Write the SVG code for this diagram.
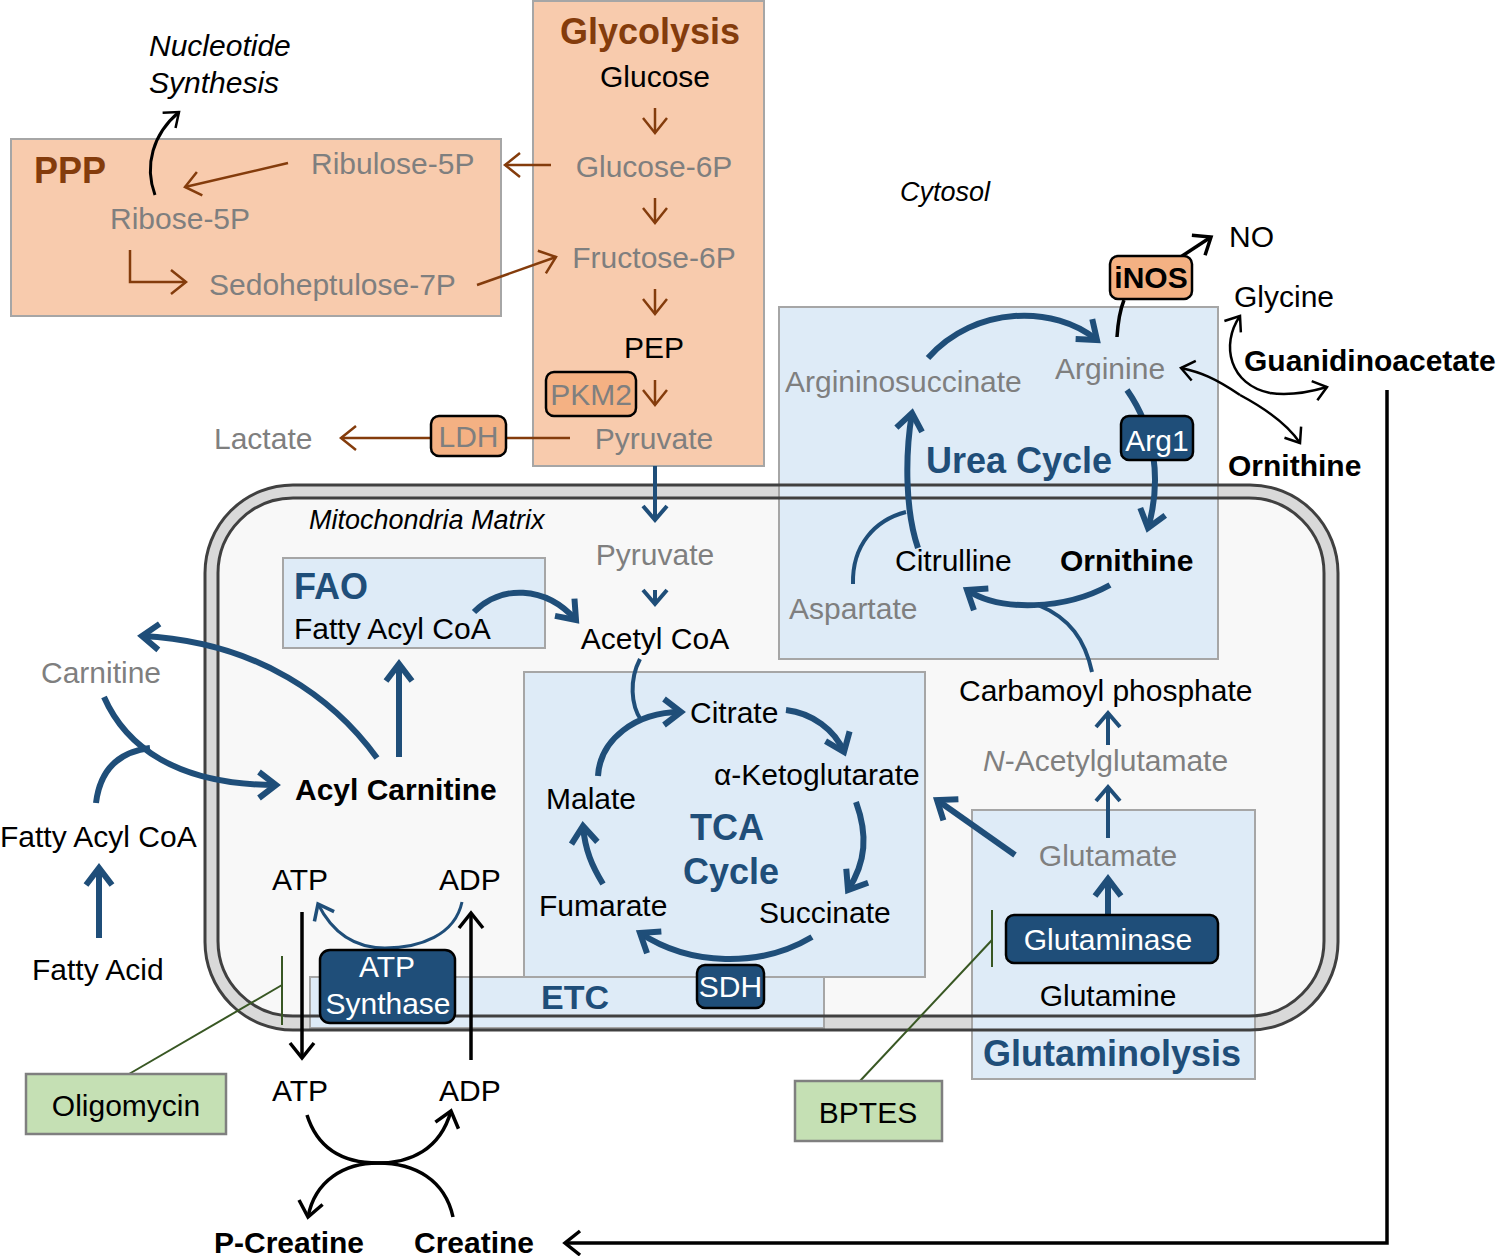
<svg xmlns="http://www.w3.org/2000/svg" width="1500" height="1256" viewBox="0 0 1500 1256">
<style>
text{font-family:"Liberation Sans",Arial,sans-serif;font-size:30px;fill:#000}
.g{fill:#7f7f7f}
.b{font-weight:bold}
.i{font-style:italic}
.ttl{font-weight:bold;font-size:36px}
.br{fill:#843c0c}
.bl{fill:#1f4e79}
.w{fill:#fff}
.mid{text-anchor:middle}
.peach{fill:#f8cbad;stroke:#a6a6a6;stroke-width:2}
.lblue{fill:#deebf7;stroke:#a6a6a6;stroke-width:2}
.enz{fill:#1f4e79;stroke:#000;stroke-width:2.5}
.enzp{fill:#f4b183;stroke:#000;stroke-width:2.5}
.inh{fill:#c5e0b4;stroke:#7f7f7f;stroke-width:2.5}
.cb{fill:none;stroke:#1f4e79;stroke-width:6}
.cbm{fill:none;stroke:#1f4e79;stroke-width:4}
.cbt{fill:none;stroke:#1f4e79;stroke-width:3}
.cbr{fill:none;stroke:#843c0c;stroke-width:2.5}
.ck{fill:none;stroke:#000;stroke-width:3.5}
.cg{fill:none;stroke:#385723;stroke-width:2}
</style>
<defs>
<marker id="mBL" markerUnits="userSpaceOnUse" markerWidth="50" markerHeight="50" viewBox="-25 -25 50 50" refX="0" refY="0" orient="auto" overflow="visible"><path d="M-17,-13 L0,0 L-17,13" fill="none" stroke="#1f4e79" stroke-width="6"/></marker>
<marker id="mBM" markerUnits="userSpaceOnUse" markerWidth="40" markerHeight="40" viewBox="-20 -20 40 40" refX="0" refY="0" orient="auto" overflow="visible"><path d="M-14,-12 L0,0 L-14,12" fill="none" stroke="#1f4e79" stroke-width="4"/></marker>
<marker id="mBS" markerUnits="userSpaceOnUse" markerWidth="40" markerHeight="40" viewBox="-20 -20 40 40" refX="0" refY="0" orient="auto" overflow="visible"><path d="M-14,-11 L0,0 L-14,11" fill="none" stroke="#1f4e79" stroke-width="3.5"/></marker>
<marker id="mBr" markerUnits="userSpaceOnUse" markerWidth="40" markerHeight="40" viewBox="-20 -20 40 40" refX="0" refY="0" orient="auto" overflow="visible"><path d="M-15,-12 L0,0 L-15,12" fill="none" stroke="#843c0c" stroke-width="2.5"/></marker>
<marker id="mK" markerUnits="userSpaceOnUse" markerWidth="40" markerHeight="40" viewBox="-20 -20 40 40" refX="0" refY="0" orient="auto" overflow="visible"><path d="M-15,-12 L0,0 L-15,12" fill="none" stroke="#000" stroke-width="3.5"/></marker>
<marker id="mKt" markerUnits="userSpaceOnUse" markerWidth="40" markerHeight="40" viewBox="-20 -20 40 40" refX="0" refY="0" orient="auto" overflow="visible"><path d="M-13,-10 L0,0 L-13,10" fill="none" stroke="#000" stroke-width="2.5"/></marker>
</defs>

<!-- Mitochondria membrane background -->
<g id="mitochondria">
<rect x="205" y="485" width="1133" height="545" rx="88" fill="#d9d9d9"/>
<rect x="218" y="498" width="1106" height="518" rx="75" fill="#f8f8f8"/>
</g>

<!-- Pathway boxes -->
<g id="glycolysis-box"><rect class="peach" x="533" y="1" width="231" height="465"/></g>
<g id="ppp-box"><rect class="peach" x="11" y="139" width="490" height="177"/></g>
<g id="urea-box"><rect class="lblue" x="779" y="307" width="439" height="352"/></g>
<g id="fao-box"><rect class="lblue" x="283" y="558" width="262" height="90"/></g>
<g id="tca-box"><rect class="lblue" x="524" y="672" width="401" height="305"/></g>
<g id="etc-box"><rect class="lblue" x="310" y="977" width="514" height="51"/></g>
<g id="glutaminolysis-box"><rect class="lblue" x="972" y="810" width="283" height="269"/></g>

<!-- Membrane lines on top -->
<g id="membrane-lines" fill="none" stroke="#404040" stroke-width="3">
<rect x="205" y="485" width="1133" height="545" rx="88"/>
<rect x="218" y="498" width="1106" height="518" rx="75"/>
</g>

<!-- Connectors -->
<g id="connectors">
<!-- glycolysis -->
<path class="cbr" d="M655,108 L655,133" marker-end="url(#mBr)"/>
<path class="cbr" d="M655,198 L655,223" marker-end="url(#mBr)"/>
<path class="cbr" d="M655,289 L655,314" marker-end="url(#mBr)"/>
<path class="cbr" d="M655,380 L655,405" marker-end="url(#mBr)"/>
<path class="cbr" d="M551,165 L505,165" marker-end="url(#mBr)"/>
<path class="cbr" d="M477,285 L556,257" marker-end="url(#mBr)"/>
<path class="cbr" d="M288,163 L185,187" marker-end="url(#mBr)"/>
<path class="cbr" d="M130,250 L130,282 L186,282" marker-end="url(#mBr)"/>
<path class="cbr" d="M570,438 L341,438" marker-end="url(#mBr)"/>
<path class="ck" d="M155,195 C144,165 153,134 179,112" marker-end="url(#mKt)" style="stroke-width:3"/>
<!-- pyruvate to mito -->
<path class="cbm" d="M655,466 L655,520" marker-end="url(#mBM)"/>
<path class="cbm" d="M655,590 L655,604" marker-end="url(#mBM)"/>
<!-- FAO -->
<path class="cb" d="M474,612 C500,585 545,585 576,620" marker-end="url(#mBL)"/>
<path class="cb" d="M399,757 L399,664" marker-end="url(#mBL)"/>
<path class="cb" d="M377,758 C335,700 260,642 142,636" marker-end="url(#mBL)"/>
<path class="cb" d="M104,697 C125,745 175,785 276,785" marker-end="url(#mBL)"/>
<path class="cb" d="M96,803 C100,770 118,752 150,748"/>
<path class="cb" d="M99,938 L99,868" marker-end="url(#mBL)"/>
<!-- TCA -->
<path class="cbm" d="M640,659 C629,680 631,705 641,720"/>
<path class="cb" d="M598,776 C600,740 635,712 681,712" marker-end="url(#mBL)"/>
<path class="cb" d="M786,710 C812,713 835,730 844,752" marker-end="url(#mBL)"/>
<path class="cb" d="M856,802 C868,835 866,862 848,890" marker-end="url(#mBL)"/>
<path class="cb" d="M812,937 C760,968 690,966 640,933" marker-end="url(#mBL)"/>
<path class="cb" d="M603,884 C592,866 585,850 583,826" marker-end="url(#mBL)"/>
<!-- glutaminolysis -->
<path class="cb" d="M1015,855 L937,800" marker-end="url(#mBL)"/>
<path class="cb" d="M1108,963 L1108,879" marker-end="url(#mBL)"/>
<path class="cbm" d="M1108,838 L1108,787" marker-end="url(#mBM)"/>
<path class="cbm" d="M1108,745 L1108,713" marker-end="url(#mBM)"/>
<!-- urea -->
<path class="cb" d="M1110,585 C1065,610 1000,612 967,590" marker-end="url(#mBL)"/>
<path class="cbm" d="M1092,672 C1085,640 1070,618 1038,605"/>
<path class="cbm" d="M853,584 C852,545 875,520 906,512"/>
<path class="cb" d="M918,548 C905,510 905,455 912,413" marker-end="url(#mBL)"/>
<path class="cb" d="M928,358 C975,305 1055,305 1097,340" marker-end="url(#mBL)"/>
<path class="cb" d="M1127,390 C1155,430 1162,480 1148,528" marker-end="url(#mBL)"/>
<!-- arginine black -->
<path class="ck" d="M1117,337 C1118,322 1120,310 1124,300"/>
<path class="ck" d="M1176,260 L1211,237" marker-end="url(#mK)"/>
<path class="ck" style="stroke-width:2.5" d="M1270,393 C1230,385 1220,345 1240,316" marker-end="url(#mKt)"/>
<path class="ck" style="stroke-width:2.5" d="M1270,393 C1290,396 1310,392 1327,387" marker-end="url(#mKt)"/>
<path class="ck" style="stroke-width:2.5" d="M1240,395 C1215,378 1200,372 1181,368" marker-end="url(#mKt)"/>
<path class="ck" style="stroke-width:2.5" d="M1240,395 C1268,410 1288,425 1300,443" marker-end="url(#mKt)"/>
<path class="ck" d="M1387,390 L1387,1243 L565,1243" marker-end="url(#mK)"/>
<!-- ATP synthase -->
<path class="cbt" d="M462,902 C455,935 420,948 385,948 C350,948 330,928 318,904" marker-end="url(#mBS)"/>
<path class="ck" d="M302,912 L302,1058" marker-end="url(#mK)"/>
<path class="ck" d="M471,1060 L471,913" marker-end="url(#mK)"/>
<!-- creatine kinase -->
<path class="ck" d="M307,1115 C318,1150 345,1163 378,1163 C410,1163 440,1150 451,1111" marker-end="url(#mK)"/>
<path class="ck" d="M453,1217 C445,1180 415,1163 378,1163 C345,1163 315,1180 308,1217" marker-end="url(#mK)"/>
<!-- inhibitors -->
<path class="cg" d="M129,1074 L282,985"/>
<path class="cg" d="M282,956 L282,1025"/>
<path class="cg" d="M860,1081 L992,940"/>
<path class="cg" d="M992,910 L992,967"/>
</g>

<!-- Enzyme boxes -->
<g id="pkm2"><rect class="enzp" x="546" y="372" width="90" height="44" rx="8"/><text class="g mid" x="591" y="405">PKM2</text></g>
<g id="ldh"><rect class="enzp" x="431" y="416" width="75" height="40" rx="8"/><text class="g mid" x="468.5" y="447">LDH</text></g>
<g id="inos"><rect class="enzp" x="1110" y="256" width="82" height="43" rx="8"/><text class="b mid" x="1151" y="288">iNOS</text></g>
<g id="arg1"><rect class="enz" x="1121" y="416" width="72" height="44" rx="8"/><text class="w mid" x="1157" y="451">Arg1</text></g>
<g id="glutaminase"><rect class="enz" x="1006" y="915" width="212" height="48" rx="8"/><text class="w mid" x="1108" y="950">Glutaminase</text></g>
<g id="sdh"><rect class="enz" x="697" y="965" width="67" height="43" rx="8"/><text class="w mid" x="730.5" y="997">SDH</text></g>
<g id="atp-synthase"><rect class="enz" x="320" y="950" width="135" height="73" rx="10"/><text class="w mid" x="387" y="977">ATP</text><text class="w mid" x="388" y="1014">Synthase</text></g>
<g id="oligomycin"><rect class="inh" x="26" y="1074" width="200" height="60"/><text class="mid" x="126" y="1116">Oligomycin</text></g>
<g id="bptes"><rect class="inh" x="795" y="1081" width="147" height="60"/><text class="mid" x="868" y="1123">BPTES</text></g>

<!-- Labels -->
<g id="glycolysis-labels">
<text class="ttl br mid" x="650" y="44">Glycolysis</text>
<text class="mid" x="655" y="87">Glucose</text>
<text class="g mid" x="654" y="177">Glucose-6P</text>
<text class="g mid" x="654" y="268">Fructose-6P</text>
<text class="mid" x="654" y="358">PEP</text>
<text class="g mid" x="654" y="449">Pyruvate</text>
<text class="g" x="214" y="449">Lactate</text>
</g>
<g id="ppp-labels">
<text class="ttl br" x="34" y="183">PPP</text>
<text class="g" x="311" y="174">Ribulose-5P</text>
<text class="g" x="110" y="229">Ribose-5P</text>
<text class="g" x="209" y="295">Sedoheptulose-7P</text>
<text class="i" x="149" y="56">Nucleotide</text>
<text class="i" x="149" y="93">Synthesis</text>
</g>
<g id="cytosol-labels">
<text class="i" x="900" y="201" style="font-size:27px">Cytosol</text>
<text x="1229" y="247">NO</text>
<text x="1234" y="307">Glycine</text>
<text class="b" x="1244" y="371">Guanidinoacetate</text>
<text class="b" x="1228" y="476">Ornithine</text>
</g>
<g id="urea-labels">
<text class="g" x="785" y="392">Argininosuccinate</text>
<text class="g" x="1055" y="379">Arginine</text>
<text class="ttl bl" x="926" y="473">Urea Cycle</text>
<text x="895" y="571">Citrulline</text>
<text class="b" x="1060" y="571">Ornithine</text>
<text class="g" x="789" y="619">Aspartate</text>
<text x="959" y="701">Carbamoyl phosphate</text>
<text class="g" x="983" y="771"><tspan class="i">N</tspan>-Acetylglutamate</text>
</g>
<g id="mito-labels">
<text class="i" x="309" y="529" style="font-size:27px">Mitochondria Matrix</text>
<text class="g mid" x="655" y="565">Pyruvate</text>
<text class="mid" x="655" y="649">Acetyl CoA</text>
<text class="ttl bl" x="294" y="599">FAO</text>
<text x="294" y="639">Fatty Acyl CoA</text>
<text class="g" x="41" y="683">Carnitine</text>
<text class="b" x="295" y="800">Acyl Carnitine</text>
<text x="0" y="847">Fatty Acyl CoA</text>
<text x="32" y="980">Fatty Acid</text>
<text x="272" y="890">ATP</text>
<text x="439" y="890">ADP</text>
<text class="ttl bl" x="541" y="1009" style="font-size:34px">ETC</text>
</g>
<g id="tca-labels">
<text x="690" y="723">Citrate</text>
<text x="714" y="785">α-Ketoglutarate</text>
<text x="546" y="809">Malate</text>
<text class="ttl bl mid" x="727" y="840">TCA</text>
<text class="ttl bl mid" x="731" y="884">Cycle</text>
<text x="539" y="916">Fumarate</text>
<text x="759" y="923">Succinate</text>
</g>
<g id="glutaminolysis-labels">
<text class="g mid" x="1108" y="866">Glutamate</text>
<text class="mid" x="1108" y="1006">Glutamine</text>
<text class="ttl bl mid" x="1112" y="1066">Glutaminolysis</text>
</g>
<g id="creatine-labels">
<text x="272" y="1101">ATP</text>
<text x="439" y="1101">ADP</text>
<text class="b" x="214" y="1253">P-Creatine</text>
<text class="b" x="414" y="1253">Creatine</text>
</g>
</svg>
